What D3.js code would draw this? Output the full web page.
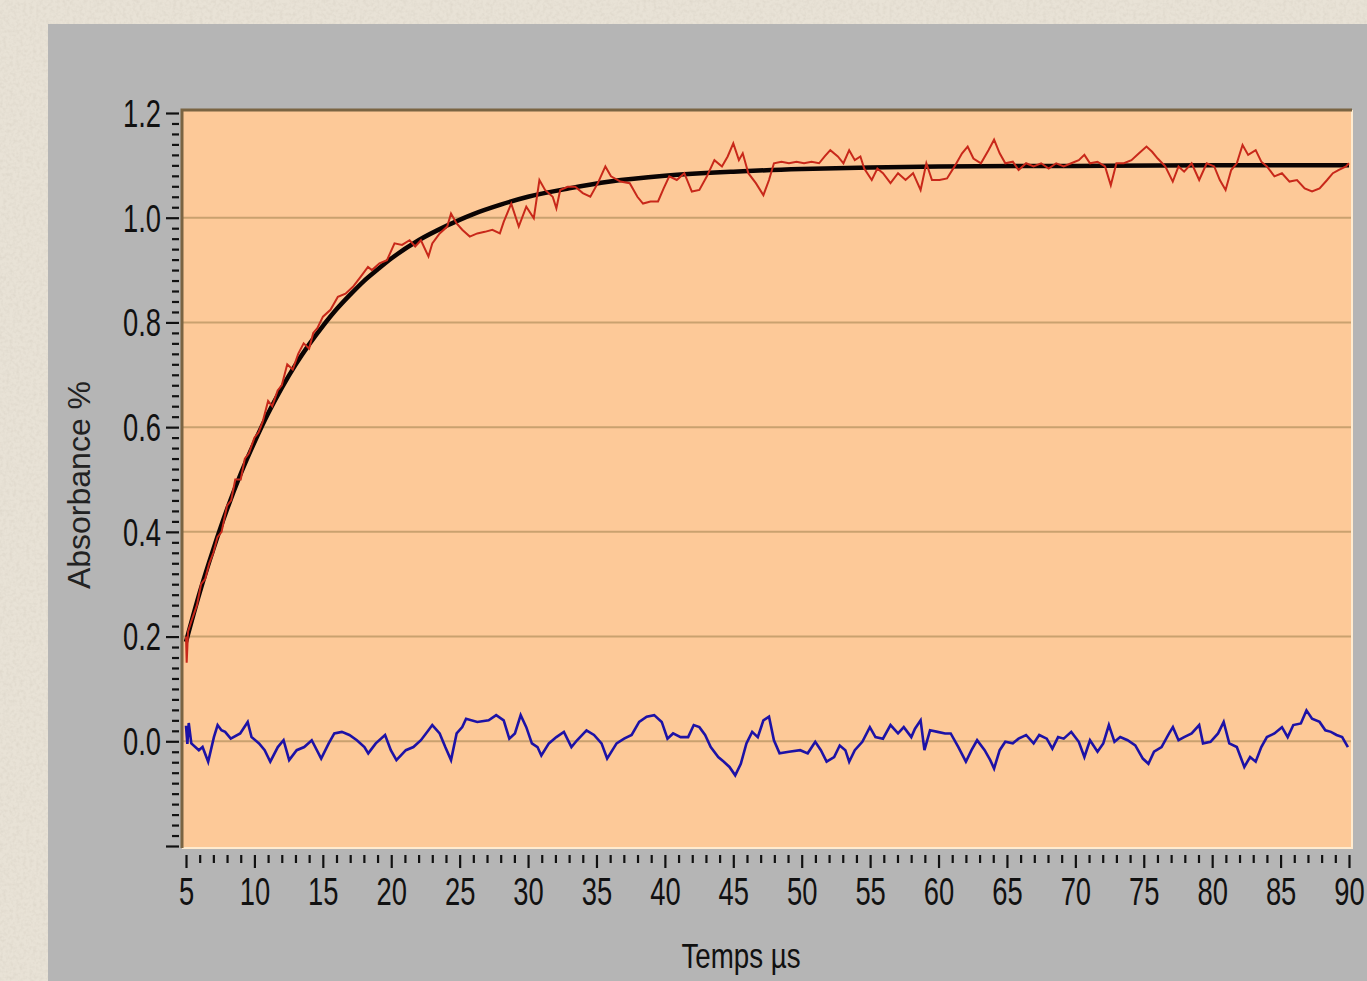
<!DOCTYPE html>
<html><head><meta charset="utf-8">
<script src="https://cdn.jsdelivr.net/npm/d3@7"></script>
<style>html,body{margin:0;padding:0;overflow:hidden;background:#e7e1d5}</style>
</head><body><svg id="c" width="1367" height="981"></svg>
<script>
// ---------- data ----------
const xTicks = [5,10,15,20,25,30,35,40,45,50,55,60,65,70,75,80,85,90];
const yTicks = [-0.2,0.0,0.2,0.4,0.6,0.8,1.0,1.2];
const yGrid = [0.0,0.2,0.4,0.6,0.8,1.0];
const xTitle = "Temps µs";
const yTitle = "Absorbance %";

const fitCurve = [[5,0.19],[6,0.284],[7,0.367],[8,0.443],[9,0.511],[10,0.571],[11,0.626],[12,0.675],[13,0.719],[14,0.758],[15,0.793],[16,0.825],[17,0.853],[18,0.879],[19,0.901],[20,0.922],[22,0.957],[24,0.984],[26,1.007],[28,1.025],[30,1.04],[33,1.056],[36,1.069],[40,1.08],[45,1.088],[50,1.093],[55,1.096],[60,1.098],[70,1.099],[80,1.1],[90,1.1]];

const redTrace = [[5.0,0.20],[5.05,0.15],[5.15,0.21],[5.4,0.23],[5.8,0.26],[6.1,0.30],[6.4,0.31],[6.7,0.34],[7.0,0.36],[7.3,0.39],[7.6,0.40],[8.0,0.45],[8.3,0.46],[8.6,0.50],[9.0,0.50],[9.3,0.54],[9.6,0.55],[10.0,0.58],[10.3,0.59],[10.6,0.61],[11.0,0.65],[11.3,0.64],[11.7,0.67],[12.0,0.68],[12.4,0.72],[12.8,0.71],[13.2,0.74],[13.6,0.76],[14.0,0.75],[14.3,0.78],
[14.6,0.789],[15.01,0.811],[15.56,0.824],[16.1,0.849],[16.66,0.855],[17.2,0.868],[17.76,0.887],[18.3,0.906],[18.59,0.900],[19.14,0.913],[19.69,0.919],[20.24,0.951],[20.79,0.948],[21.34,0.957],[21.75,0.945],[22.17,0.957],[22.72,0.926],[23.0,0.951],[23.54,0.970],[24.09,0.983],[24.37,1.008],[24.78,0.989],[25.19,0.977],[25.74,0.964],[26.29,0.970],[26.84,0.973],[27.39,0.977],[27.94,0.970],[28.22,0.992],[28.77,1.027],[29.32,0.983],[29.87,1.021],[30.42,0.999],[30.83,1.072],[31.24,1.053],[31.8,1.040],[32.07,1.018],[32.35,1.053],[32.9,1.059],[33.45,1.059],[34.0,1.047],[34.55,1.040],[35.1,1.066],[35.65,1.098],[36.06,1.079],[36.75,1.069],[37.43,1.066],[37.99,1.040],[38.4,1.027],[38.95,1.031],[39.5,1.031],[39.91,1.056],[40.32,1.079],[40.87,1.072],[41.42,1.085],[41.97,1.050],[42.52,1.053],[43.07,1.079],[43.62,1.110],[44.17,1.098],[44.59,1.117],[45.0,1.142],[45.41,1.110],[45.69,1.123],[46.1,1.085],[46.65,1.066],[47.2,1.043],[47.61,1.072],
[47.97,1.104],[48.52,1.107],[49.07,1.104],[49.62,1.107],[50.17,1.104],[50.72,1.107],[51.27,1.104],[51.68,1.117],[52.09,1.129],[52.64,1.117],[53.05,1.104],[53.47,1.129],[53.88,1.110],[54.29,1.117],[54.57,1.094],[55.12,1.072],[55.53,1.094],[55.94,1.085],[56.49,1.066],[57.04,1.085],[57.59,1.072],[58.14,1.085],[58.69,1.053],[59.11,1.104],[59.52,1.072],[60.07,1.072],[60.62,1.075],[61.17,1.098],[61.72,1.123],[62.13,1.136],[62.55,1.113],[63.1,1.104],[63.65,1.129],[64.06,1.149],[64.47,1.123],[64.88,1.104],[65.43,1.107],[65.85,1.091],[66.4,1.104],[66.95,1.098],[67.5,1.104],[68.05,1.094],[68.6,1.104],[69.15,1.098],[69.7,1.104],[70.25,1.110],[70.66,1.120],[71.07,1.104],[71.62,1.107],[72.17,1.098],[72.59,1.062],[73.0,1.104],[73.55,1.104],[74.1,1.110],[74.65,1.123],[75.2,1.136],[75.61,1.126],[76.02,1.113],[76.57,1.098],[77.12,1.069],[77.54,1.098],[77.95,1.088],[78.5,1.104],[79.05,1.072],[79.6,1.104],[80.15,1.098],[80.56,1.072],[80.98,1.053],[81.39,1.091],[81.8,1.104],[82.22,1.139],[82.63,1.120],[83.18,1.129],[83.59,1.107],[84.0,1.098],[84.55,1.079],[85.1,1.085],[85.65,1.069],[86.2,1.072],[86.76,1.056],[87.3,1.050],[87.85,1.056],[88.4,1.072],[88.82,1.085],[89.23,1.091],[89.78,1.098],[90.0,1.104]];

const blueTrace = [[5.0,0.030],[5.1,-0.005],[5.2,0.035],[5.39,-0.004],[5.94,-0.017],[6.21,-0.011],[6.62,-0.039],[7.04,0.008],[7.31,0.031],[7.59,0.021],[7.86,0.018],[8.27,0.005],[8.96,0.015],[9.51,0.037],[9.79,0.008],[10.34,-0.004],[10.75,-0.017],[11.16,-0.039],[11.71,-0.011],[12.13,0.002],[12.54,-0.036],[13.09,-0.017],[13.64,-0.011],[14.19,0.002],[14.88,-0.033],[15.43,-0.004],[15.84,0.015],[16.39,0.018],[16.94,0.012],[17.49,0.002],[18.04,-0.011],[18.32,-0.023],[18.87,-0.004],[19.55,0.012],[19.97,-0.017],[20.38,-0.036],[21.07,-0.017],[21.62,-0.011],[22.17,0.002],[22.72,0.021],[23.0,0.031],[23.54,0.015],[23.95,-0.011],[24.37,-0.036],[24.78,0.015],[25.19,0.027],[25.47,0.043],[26.29,0.037],[27.12,0.040],[27.67,0.050],[28.22,0.040],[28.63,0.005],[29.04,0.015],[29.46,0.050],[29.87,0.027],[30.28,-0.004],[30.69,-0.011],[30.97,-0.027],[31.52,-0.004],[32.07,0.008],[32.62,0.018],[33.17,-0.011],[33.58,0.002],[34.27,0.021],[34.82,0.012],[35.37,-0.004],[35.78,-0.033],[36.47,-0.004],[37.02,0.005],[37.57,0.012],[38.12,0.037],[38.67,0.047],[39.22,0.050],[39.77,0.037],[40.19,0.005],[40.6,0.015],[41.15,0.008],[41.7,0.008],[42.11,0.031],[42.52,0.027],[42.94,0.012],[43.35,-0.011],[43.9,-0.030],[44.31,-0.039],[44.72,-0.049],[45.14,-0.065],[45.55,-0.043],[45.96,-0.004],[46.38,0.018],[46.79,0.008],[47.2,0.040],[47.61,0.047],
[47.97,0.002],[48.38,-0.023],[49.07,-0.020],[49.89,-0.017],[50.44,-0.023],[50.99,-0.001],[51.4,-0.017],[51.82,-0.039],[52.37,-0.030],[52.78,-0.008],[53.19,-0.017],[53.47,-0.039],[53.88,-0.017],[54.43,-0.001],[54.98,0.027],[55.39,0.008],[55.94,0.005],[56.49,0.031],[57.04,0.015],[57.46,0.027],[58.01,0.008],[58.28,0.024],[58.69,0.040],[58.97,-0.017],[59.38,0.021],[59.93,0.018],[60.48,0.015],[60.89,0.015],[61.45,-0.011],[62.0,-0.039],[62.41,-0.017],[62.82,0.002],[63.37,-0.017],[63.78,-0.036],[64.06,-0.052],[64.47,-0.017],[64.88,-0.001],[65.43,-0.004],[65.85,0.005],[66.4,0.012],[66.95,-0.004],[67.36,0.012],[67.91,0.005],[68.32,-0.014],[68.74,0.008],[69.15,0.005],[69.7,0.018],[70.25,-0.001],[70.66,-0.030],[71.07,0.002],[71.62,-0.020],[72.04,-0.004],[72.45,0.031],[72.86,-0.001],[73.28,0.008],[73.82,0.002],[74.38,-0.008],[74.93,-0.033],[75.34,-0.043],[75.75,-0.020],[76.3,-0.011],[76.85,0.015],[77.13,0.027],[77.54,0.002],[77.95,0.008],[78.5,0.015],[79.05,0.031],[79.33,-0.004],[79.88,-0.001],[80.43,0.015],[80.84,0.037],[81.25,-0.004],[81.8,-0.011],[82.35,-0.049],[82.77,-0.030],[83.18,-0.039],[83.59,-0.011],[84.0,0.008],[84.55,0.015],[85.1,0.027],[85.52,0.008],[85.93,0.031],[86.48,0.034],[86.89,0.059],[87.3,0.043],[87.85,0.037],[88.27,0.021],[88.68,0.018],[89.09,0.012],[89.5,0.008],[89.92,-0.011]];

// ---------- drawing ----------
const W = 1367, H = 981;
const svg = d3.select("#c");
const FONT = "'Liberation Sans', Arial, sans-serif";

const defs = svg.append("defs");
const f = defs.append("filter").attr("id","tex").attr("x",0).attr("y",0).attr("width","100%").attr("height","100%");
f.append("feTurbulence").attr("type","fractalNoise").attr("baseFrequency","0.3").attr("numOctaves",2).attr("seed",4);
f.append("feColorMatrix").attr("type","matrix").attr("values","0 0 0 0 0.6  0 0 0 0 0.55  0 0 0 0 0.47  0 0 0 1.4 -0.55");

svg.append("rect").attr("width",W).attr("height",H).attr("fill","#e8e2d6");
svg.append("rect").attr("width",W).attr("height",H).attr("filter","url(#tex)").attr("opacity",0.45);

// gray panel
svg.append("rect").attr("x",48).attr("y",24).attr("width",W-48).attr("height",H-24).attr("fill","#b5b5b5");

const x = d3.scaleLinear().domain([5,90]).range([186,1349]);
const y = d3.scaleLinear().domain([-0.2,1.2]).range([846,113]);

const pl = x.range()[0]-4, pr = x.range()[1]+3, pt = y.range()[1]-3, pb = y.range()[0]+2;
svg.append("rect").attr("x",pl).attr("y",pt).attr("width",pr-pl).attr("height",pb-pt).attr("fill","#fdc998");

// grid
svg.append("g").selectAll("line").data(yGrid).join("line")
  .attr("x1",pl).attr("x2",pr).attr("y1",d=>y(d)).attr("y2",d=>y(d))
  .attr("stroke","#c9a16f").attr("stroke-width",2);

// lines
const line = d3.line().x(d=>x(d[0])).y(d=>y(d[1]));
svg.append("path").datum(blueTrace).attr("d",line).attr("fill","none")
  .attr("stroke","#1d12a6").attr("stroke-width",2.6).attr("stroke-linejoin","miter");
svg.append("path").datum(fitCurve).attr("d",d3.line().x(d=>x(d[0])).y(d=>y(d[1])).curve(d3.curveMonotoneX))
  .attr("fill","none").attr("stroke","#0a0404").attr("stroke-width",4.5);
svg.append("path").datum(redTrace).attr("d",line).attr("fill","none")
  .attr("stroke","#c8281a").attr("stroke-width",2).attr("stroke-linejoin","miter");

// plot borders (sunken look)
svg.append("path").attr("d",`M${pl},${pb}H${pr}V${pt}`).attr("fill","none").attr("stroke","#ffebcf").attr("stroke-width",2);
svg.append("path").attr("d",`M${pl},${pb}V${pt}H${pr}`).attr("fill","none").attr("stroke","#7a6442").attr("stroke-width",3);

// axes
const SX = 0.72;
const minorY = d3.range(-10,61).map(i=>i*0.02).filter(v=>Math.abs(Math.round(v*5)-v*5)>1e-6);
const minorX = d3.range(5,91).filter(v=>v%5!==0);

const gyMinor = svg.append("g").attr("transform","translate(179,0)")
  .call(d3.axisLeft(y).tickValues(minorY).tickSize(7).tickFormat(""));
const gy = svg.append("g").attr("transform","translate(179,0)")
  .call(d3.axisLeft(y).tickValues(yTicks).tickSize(13).tickPadding(5)
    .tickFormat(d=> d<0 ? "" : d3.format(".1f")(d)));
const gxMinor = svg.append("g").attr("transform","translate(0,855)")
  .call(d3.axisBottom(x).tickValues(minorX).tickSize(8).tickFormat(""));
const gx = svg.append("g").attr("transform","translate(0,855)")
  .call(d3.axisBottom(x).tickValues(xTicks).tickSize(13).tickPadding(10).tickFormat(d=>String(d)));

[gy,gyMinor,gx,gxMinor].forEach(g=>{
  g.select(".domain").remove();
  g.selectAll(".tick line").attr("stroke","#111").attr("stroke-width",2.2);
  g.selectAll("text").attr("font-family",FONT).attr("font-size",38).attr("fill","#111");
});
gy.selectAll(".tick text").attr("x",-18/SX).attr("transform",`scale(${SX},1)`).attr("dy","0.35em");
gx.selectAll(".tick text").attr("transform",`scale(${SX},1)`);

// titles
svg.append("text").attr("transform","translate(741,968) scale(0.77,1)")
  .attr("text-anchor","middle").attr("font-family",FONT).attr("font-size",36).attr("fill","#111").text(xTitle);
svg.append("text").attr("transform","translate(90,485) rotate(-90)")
  .attr("text-anchor","middle").attr("font-family",FONT).attr("font-size",32).attr("fill","#222").text(yTitle);
</script></body></html>
